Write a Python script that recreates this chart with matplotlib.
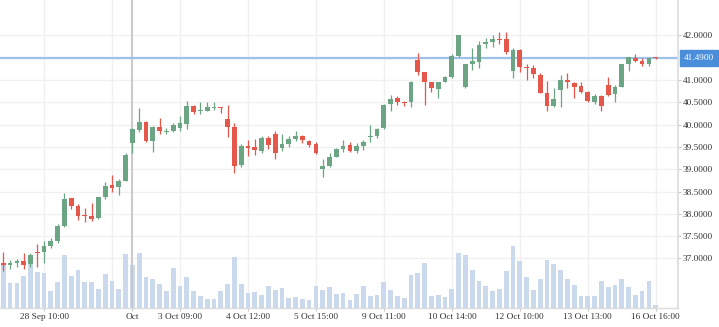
import matplotlib
matplotlib.use("Agg")
import matplotlib.pyplot as plt
from matplotlib.transforms import blended_transform_factory

plt.rcParams['font.family'] = ['Liberation Serif', 'DejaVu Serif']

# OHLC per bar
opens = [36.89, 36.86, 36.89, 36.94, 36.88, 37.15, 37.15, 37.28, 37.39, 37.73,
         38.35, 38.17, 37.97, 37.95, 37.90, 38.38, 38.65, 38.61, 38.74, 39.59,
         39.89, 40.05, 39.64, 39.95, 39.83, 39.86, 39.93, 40.01, 40.42, 40.30,
         40.31, 40.37, 40.39, 40.13, 39.94, 39.09, 39.53, 39.49, 39.41, 39.71,
         39.79, 39.47, 39.57, 39.68, 39.75, 39.63, 39.57, 39.00, 39.08, 39.28,
         39.45, 39.54, 39.41, 39.53, 39.72, 39.75, 39.92, 40.46, 40.60, 40.51,
         40.50, 41.45, 41.17, 40.95, 40.80, 40.96, 41.06, 41.54, 40.84, 41.37,
         41.41, 41.80, 41.86, 41.93, 41.91, 41.20, 41.67, 41.30, 41.26, 41.11,
         40.70, 40.42, 40.78, 41.00, 40.94, 40.87, 40.74, 40.51, 40.64, 40.89,
         40.68, 40.85, 41.37, 41.50, 41.43, 41.37, 41.50]
highs = [37.15, 36.96, 36.98, 37.13, 37.13, 37.32, 37.39, 37.45, 37.77, 38.47,
         38.36, 38.22, 38.12, 38.24, 38.38, 38.71, 38.87, 38.77, 39.36, 39.92,
         40.37, 40.08, 39.97, 40.14, 39.93, 40.04, 40.19, 40.54, 40.44, 40.51,
         40.50, 40.51, 40.40, 40.44, 40.04, 39.56, 39.65, 39.67, 39.74, 39.74,
         39.86, 39.79, 39.74, 39.86, 39.77, 39.65, 39.62, 39.24, 39.36, 39.47,
         39.65, 39.62, 39.58, 39.65, 39.99, 39.93, 40.46, 40.66, 40.64, 40.53,
         40.98, 41.61, 41.19, 40.96, 40.96, 41.09, 41.58, 42.01, 41.37, 41.71,
         41.87, 41.95, 42.01, 42.07, 42.08, 41.71, 41.70, 41.37, 41.34, 41.15,
         40.98, 40.81, 41.11, 41.16, 40.96, 40.96, 40.75, 40.69, 40.66, 41.07,
         40.89, 41.37, 41.52, 41.58, 41.49, 41.50, 41.51]
lows = [36.72, 36.76, 36.81, 36.76, 36.81, 36.81, 36.90, 37.23, 37.34, 37.70,
        38.10, 37.86, 37.81, 37.84, 37.88, 38.33, 38.50, 38.42, 38.74, 39.37,
        39.84, 39.62, 39.39, 39.80, 39.78, 39.84, 39.86, 39.90, 40.23, 40.24,
        40.30, 40.33, 40.27, 39.73, 38.91, 39.06, 39.30, 39.32, 39.37, 39.45,
        39.24, 39.41, 39.50, 39.63, 39.58, 39.50, 39.34, 38.82, 39.06, 39.27,
        39.39, 39.39, 39.37, 39.43, 39.62, 39.71, 39.90, 40.30, 40.44, 40.42,
        40.39, 41.11, 40.44, 40.74, 40.59, 40.96, 41.04, 41.52, 40.81, 41.22,
        41.26, 41.71, 41.75, 41.80, 41.58, 41.05, 41.19, 41.00, 41.05, 40.70,
        40.30, 40.40, 40.40, 40.81, 40.59, 40.72, 40.51, 40.46, 40.30, 40.65,
        40.51, 40.84, 41.21, 41.41, 41.32, 41.32, 41.47]
closes = [36.85, 36.89, 36.94, 36.85, 37.08, 37.13, 37.28, 37.39, 37.73, 38.33,
          38.18, 37.96, 37.95, 37.89, 38.37, 38.62, 38.57, 38.74, 39.32, 39.90,
          40.05, 39.63, 39.95, 39.86, 39.86, 39.99, 40.03, 40.42, 40.29, 40.33,
          40.39, 40.39, 40.37, 39.95, 39.08, 39.52, 39.48, 39.43, 39.69, 39.54,
          39.37, 39.57, 39.67, 39.75, 39.65, 39.55, 39.36, 39.08, 39.28, 39.45,
          39.52, 39.41, 39.53, 39.62, 39.74, 39.90, 40.44, 40.57, 40.51, 40.48,
          40.96, 41.19, 40.96, 40.81, 40.96, 41.06, 41.54, 42.00, 41.36, 41.43,
          41.78, 41.86, 41.93, 41.90, 41.62, 41.67, 41.30, 41.26, 41.13, 40.70,
          40.42, 40.57, 41.00, 40.95, 40.84, 40.74, 40.53, 40.64, 40.42, 40.66,
          40.84, 41.36, 41.51, 41.43, 41.37, 41.49, 41.49]
volumes = [4270, 2440, 2440, 3170, 5100, 3600, 3500, 1700, 2600, 5240,
           3170, 3800, 2600, 2540, 1900, 3370, 2640, 1900, 5400, 4240,
           5470, 3070, 2870, 2340, 1640, 3970, 2170, 3070, 1640, 1170,
           900, 900, 1640, 2340, 5070, 2340, 1440, 1600, 1270, 2170,
           1800, 2000, 1000, 1070, 900, 740, 2170, 1800, 2070, 1370,
           1470, 740, 1370, 2170, 1170, 1270, 2540, 1800, 1170, 1000,
           3240, 3440, 4500, 1170, 1270, 1100, 1900, 5470, 5300, 3770,
           2700, 2170, 1640, 1900, 3700, 6140, 4700, 3070, 1800, 2900,
           4800, 4400, 3800, 2900, 2270, 1170, 1170, 1170, 2640, 2100,
           2270, 2900, 2100, 1270, 1640, 2700, 270]

tick_index = [6, 19, 26, 36, 46, 56, 66, 76, 86, 96]
tick_labels = ['28 Sep 10:00', 'Oct', '3 Oct 09:00', '4 Oct 12:00', '5 Oct 15:00',
               '9 Oct 11:00', '10 Oct 14:00', '12 Oct 10:00', '13 Oct 13:00',
               '16 Oct 16:00']
extra_grid_index = [16]
price_levels = [37.0, 37.5, 38.0, 38.5, 39.0, 39.5, 40.0, 40.5, 41.0, 41.5, 42.0]
crosshair_index = 19

UP = '#6ba583'
DOWN = '#e5574a'
VOL = '#cad9ec'
GRID = '#f0f0f0'
BORDER = '#dcdcdc'
TEXT = '#333333'
LINE_BLUE = '#9ec1e9'
LABEL_BLUE = '#4a8edb'

W, H = 719, 327
fig = plt.figure(figsize=(W / 100, H / 100), dpi=100)
fig.patch.set_facecolor('white')
plot_right, plot_bottom = 678, 307.7
rect = [0, 1 - plot_bottom / H, plot_right / W, plot_bottom / H]

n = len(closes)
xlim = (-0.486, 99.28)
ylim = (35.895, 42.794)

# background layer: grid
ax_bg = fig.add_axes(rect)
ax_bg.set_xlim(*xlim)
ax_bg.set_ylim(*ylim)
for p in price_levels:
    ax_bg.axhline(p, color=GRID, lw=1.0, zorder=0)
for i in tick_index + extra_grid_index:
    ax_bg.axvline(i, color=GRID, lw=1.0, zorder=0)
ax_bg.axis('off')

# volume layer
ax_v = fig.add_axes(rect)
ax_v.patch.set_alpha(0)
ax_v.set_xlim(*xlim)
ax_v.set_ylim(0, 30770)
ax_v.bar(range(n), volumes, width=0.7, color=VOL, linewidth=0)
ax_v.axis('off')

# price layer
ax = fig.add_axes(rect)
ax.patch.set_alpha(0)
ax.set_xlim(*xlim)
ax.set_ylim(*ylim)

ax.axvline(crosshair_index, color='#c6c6c6', lw=1.3, zorder=1)

last = closes[-1]
ax.axhline(last, color=LINE_BLUE, lw=1.6, zorder=2)

for i in range(n):
    o, h, l, c = opens[i], highs[i], lows[i], closes[i]
    col = UP if c >= o else DOWN
    ax.vlines(i, l, h, color=col, lw=0.9, zorder=3)
    bottom = min(o, c)
    height = max(abs(c - o), 0.022)
    ax.bar(i, height, bottom=bottom, width=0.7, color=col, linewidth=0, zorder=4)

for side in ['top', 'left']:
    ax.spines[side].set_visible(False)
ax.spines['right'].set_color(BORDER)
ax.spines['bottom'].set_color(BORDER)
ax.spines['right'].set_linewidth(1.2)
ax.spines['bottom'].set_linewidth(1.0)

ax.yaxis.tick_right()
shown = [p for p in price_levels if abs(p - last) > 0.05]
ax.set_yticks(shown)
ax.set_yticklabels([f'{p:.4f}' for p in shown])
ax.set_xticks(tick_index)
ax.set_xticklabels(tick_labels)
ax.tick_params(axis='both', length=2.4, width=0.8, color='#c8c8c8',
               labelcolor=TEXT, labelsize=6.7)
ax.tick_params(axis='y', pad=1.2)
ax.tick_params(axis='x', pad=1.6)

ax.annotate(f'{last:.4f}', xy=(1.0, last), xycoords=('axes fraction', 'data'),
            xytext=(4.0, 0), textcoords='offset points', ha='left', va='center',
            fontsize=6.7, color='white',
            bbox=dict(boxstyle='square,pad=0.42', fc=LABEL_BLUE, ec=LABEL_BLUE),
            annotation_clip=False, zorder=10)

fig.savefig('out.png', dpi=100, facecolor='white')
